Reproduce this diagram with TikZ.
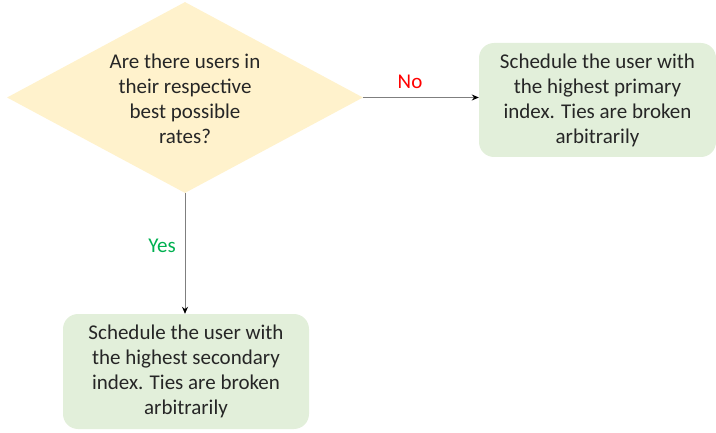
\documentclass[tikz,border=0pt]{standalone}
\usepackage{fontspec}
\setmainfont{Carlito}
\usetikzlibrary{shapes.geometric,arrows.meta}
\definecolor{dia}{HTML}{FFF2CC}
\definecolor{boxg}{HTML}{E2EFDA}
\definecolor{txt}{HTML}{262626}
\definecolor{nored}{HTML}{FF0000}
\definecolor{yesgreen}{HTML}{00B050}
\definecolor{lin}{HTML}{7F7F7F}
\begin{document}
\begin{tikzpicture}[x=1pt,y=1pt,
  every node/.style={font=\fontsize{21}{25}\selectfont, text=txt},
  decision/.style={diamond, fill=dia, inner sep=0pt, minimum width=356pt, minimum height=191pt},
  actbox/.style={rectangle, rounded corners=15pt, fill=boxg, inner sep=0pt, align=center},
  conn/.style={draw=lin, line width=0.8pt, -{Stealth[length=7pt,width=6pt,color=black]}},
  lbl/.style={font=\fontsize{21}{24}\selectfont}
]
\useasboundingbox (0,0) rectangle (716,432);
\node[decision] (q) at (185,334.5) {};
\node[align=center, inner sep=0pt] (qt) at (185,333) {Are there users in\\their respective\\best possible\\rates?};
\node[actbox, minimum width=237pt, minimum height=114pt] (p) at (597.5,332) {Schedule the user with\\the highest primary\\index. Ties are broken\\arbitrarily};
\node[actbox, minimum width=246pt, minimum height=115pt] (s) at (186,60.5) {Schedule the user with\\the highest secondary\\index. Ties are broken\\arbitrarily};
\draw[conn] (q.east) -- (q.east -| p.west);
\draw[conn] (q.south) -- (q.south |- s.north);
\node[lbl, text=nored] (no) at (410,350) {No};
\node[lbl, text=yesgreen] (yes) at (162,186) {Yes};
\end{tikzpicture}
\end{document}
